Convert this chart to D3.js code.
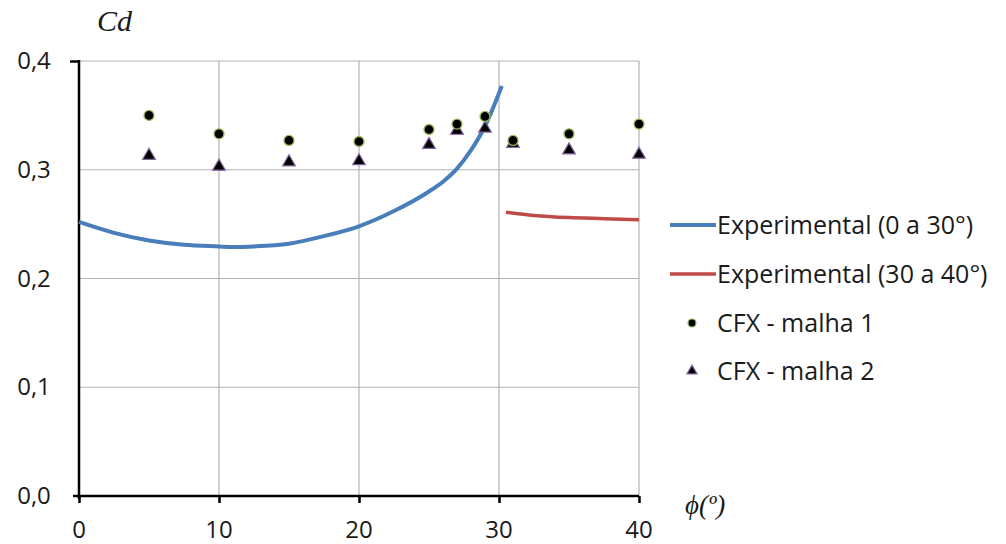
<!DOCTYPE html>
<html>
<head>
<meta charset="utf-8">
<script src="https://cdn.jsdelivr.net/npm/d3@7"></script>
<style>
  body { margin: 0; background: #fff; }
</style>
</head>
<body>
<div id="chart"></div>
<script>
// experimental curve, 0 to 30 deg
const expAngle = [0, 2.5, 5, 7.5, 10, 11, 12.5, 15, 17.5, 20, 22.5, 25, 26, 27, 28, 29, 30.2];
const expCd    = [0.252, 0.242, 0.235, 0.231, 0.2295, 0.229, 0.2295, 0.232, 0.239, 0.248, 0.262, 0.280, 0.289, 0.301, 0.318, 0.340, 0.377];
// experimental curve, 30 to 40 deg
const exp2Angle = [30.5, 32.5, 35, 37.5, 40];
const exp2Cd    = [0.261, 0.258, 0.256, 0.255, 0.254];
// CFX runs
const cfxAngle = [5, 10, 15, 20, 25, 27, 29, 31, 35, 40];
const malha1   = [0.350, 0.333, 0.327, 0.326, 0.337, 0.342, 0.349, 0.327, 0.333, 0.342];
const malha2   = [0.313, 0.303, 0.307, 0.308, 0.323, 0.336, 0.338, 0.324, 0.318, 0.314];
const xTicks = [0, 10, 20, 30, 40];
const yTicks = [0, 0.1, 0.2, 0.3, 0.4];
const legendLabels = ["Experimental (0 a 30°)", "Experimental (30 a 40°)", "CFX - malha 1", "CFX - malha 2"];

const width = 1006, height = 544;
const sans = "'Open Sans', Lato, sans-serif";
const serif = "'Liberation Serif', serif";
const svg = d3.select("#chart").append("svg")
  .attr("width", width)
  .attr("height", height);

const x = d3.scaleLinear().domain([0, 40]).range([79, 639]);
const y = d3.scaleLinear().domain([0, 0.4]).range([496, 61]);

// grid
const grid = svg.append("g").attr("stroke", "#b3b3b3").attr("stroke-width", 1.2);
grid.selectAll(".gy").data(yTicks.filter(d => d > 0)).join("line")
  .attr("x1", x(0)).attr("x2", x(40))
  .attr("y1", d => y(d)).attr("y2", d => y(d));
grid.selectAll(".gx").data(xTicks.filter(d => d > 0)).join("line")
  .attr("x1", d => x(d)).attr("x2", d => x(d))
  .attr("y1", y(0)).attr("y2", y(0.4));

// axes
const fmt = d => d3.format(".1f")(d).replace(".", ",");
const yAxis = svg.append("g").attr("transform", `translate(${x(0)},0)`)
  .call(d3.axisLeft(y).tickValues([0.4]).tickSizeOuter(0).tickSize(9).tickFormat(""));
const xAxis = svg.append("g").attr("transform", `translate(0,${y(0)})`)
  .call(d3.axisBottom(x).tickValues(xTicks).tickSizeOuter(0).tickSize(7).tickFormat(""));
[xAxis, yAxis].forEach(a => {
  a.select(".domain").attr("stroke", "#000").attr("stroke-width", 2.5);
  a.selectAll(".tick line").attr("stroke", "#000").attr("stroke-width", 2.5);
});
yAxis.select(".domain").attr("d", `M0,${y(0) + 3}V${y(0.4) - 1}`);
xAxis.select(".domain").attr("d", `M${x(0) - 6},0H${x(40)}`);

svg.append("g").selectAll("text").data(yTicks).join("text")
  .attr("x", 34).attr("y", d => y(d) + 8)
  .attr("text-anchor", "middle")
  .attr("font-family", sans).attr("font-size", 24).attr("fill", "#1a1a1a")
  .text(fmt);
svg.append("g").selectAll("text").data(xTicks).join("text")
  .attr("x", d => x(d)).attr("y", 538)
  .attr("text-anchor", "middle")
  .attr("font-family", sans).attr("font-size", 24).attr("fill", "#1a1a1a")
  .text(d => d);

svg.append("text").attr("x", 97).attr("y", 31)
  .attr("font-family", serif).attr("font-style", "italic")
  .attr("font-size", 30).attr("fill", "#1a1a1a").text("Cd");
svg.append("text").attr("x", 685).attr("y", 514)
  .attr("font-family", serif).attr("font-style", "italic")
  .attr("font-size", 27).attr("fill", "#1a1a1a").text("ϕ(º)");

// lines
const line = d3.line().curve(d3.curveMonotoneX).x(d => x(d[0])).y(d => y(d[1]));
svg.append("path").datum(d3.zip(expAngle, expCd))
  .attr("fill", "none").attr("stroke", "#4a7ebb").attr("stroke-width", 4)
  .attr("d", line);
svg.append("path").datum(d3.zip(exp2Angle, exp2Cd))
  .attr("fill", "none").attr("stroke", "#be4b48").attr("stroke-width", 3.5)
  .attr("d", line);

// markers
const tri = d3.symbol().type(d3.symbolTriangle).size(70);
svg.append("g").selectAll("path").data(d3.zip(cfxAngle, malha2)).join("path")
  .attr("transform", d => `translate(${x(d[0])},${y(d[1])})`)
  .attr("d", tri).attr("fill", "#000").attr("stroke", "#8064a2").attr("stroke-width", 1.2);
svg.append("g").selectAll("circle").data(d3.zip(cfxAngle, malha1)).join("circle")
  .attr("cx", d => x(d[0])).attr("cy", d => y(d[1])).attr("r", 5)
  .attr("fill", "#000").attr("stroke", "#9bbb59").attr("stroke-width", 1.3);

// legend
const lg = svg.append("g");
const rowsY = [225, 274, 323, 371];
lg.append("line").attr("x1", 670).attr("x2", 716).attr("y1", rowsY[0]).attr("y2", rowsY[0])
  .attr("stroke", "#4a7ebb").attr("stroke-width", 4);
lg.append("line").attr("x1", 670).attr("x2", 716).attr("y1", rowsY[1]).attr("y2", rowsY[1])
  .attr("stroke", "#be4b48").attr("stroke-width", 3.5);
lg.append("circle").attr("cx", 692).attr("cy", rowsY[2]).attr("r", 4)
  .attr("fill", "#000").attr("stroke", "#9bbb59").attr("stroke-width", 1.2);
lg.append("path").attr("transform", `translate(692,${rowsY[3]})`)
  .attr("d", d3.symbol().type(d3.symbolTriangle).size(45))
  .attr("fill", "#000").attr("stroke", "#8064a2").attr("stroke-width", 1.2);
lg.selectAll("text").data(legendLabels).join("text")
  .attr("x", 717)
  .attr("y", (d, i) => rowsY[i] + 9)
  .attr("font-family", sans).attr("font-size", 25).attr("fill", "#1a1a1a")
  .text(d => d);
</script>
</body>
</html>
